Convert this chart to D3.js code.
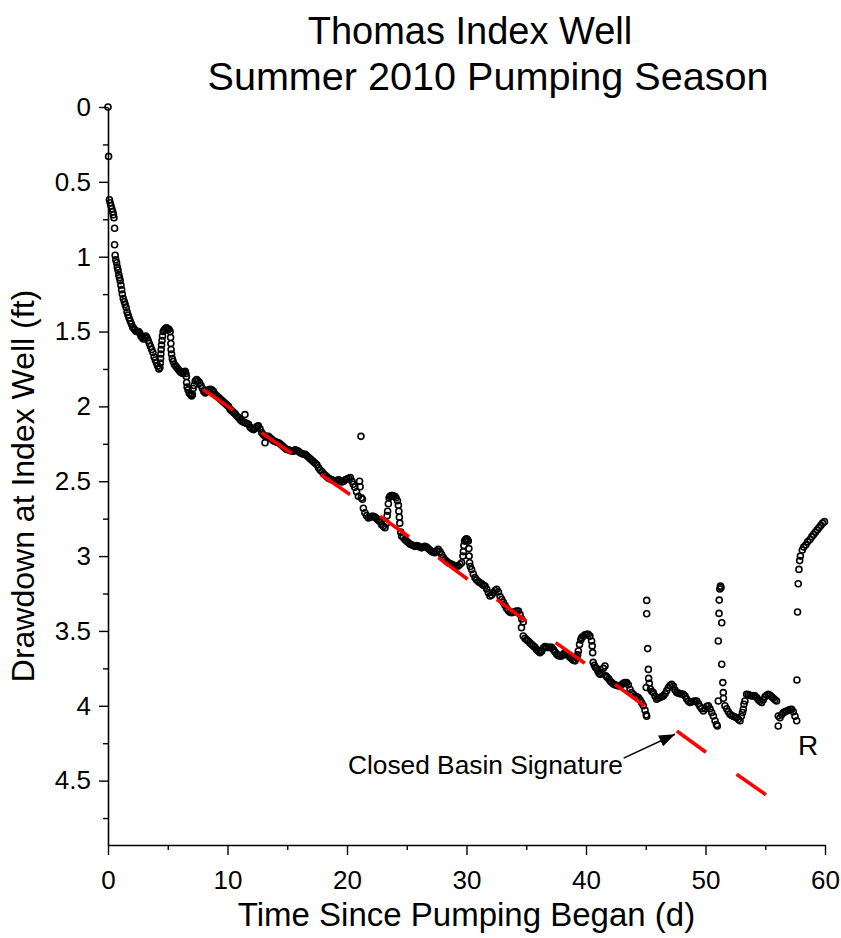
<!DOCTYPE html>
<html>
<head>
<meta charset="utf-8">
<script src="https://cdn.jsdelivr.net/npm/d3@7"></script>
<style>
  html, body { margin: 0; padding: 0; background: #fff; }
  svg { display: block; font-family: "Liberation Sans", Arial, sans-serif; }
</style>
</head>
<body>
<svg id="chart" width="841" height="938"></svg>
<script>
// ---- DATA (time since pumping began in days, drawdown in ft) ----
const titleLines = ["Thomas Index Well", "Summer 2010 Pumping Season"];
const xLabel = "Time Since Pumping Began (d)";
const yLabel = "Drawdown at Index Well (ft)";
const xMajorTicks = [0, 10, 20, 30, 40, 50, 60];
const xMinorTicks = [5, 15, 25, 35, 45, 55];
const yMajorTicks = [0, 0.5, 1, 1.5, 2, 2.5, 3, 3.5, 4, 4.5];
const yMinorTicks = [0.25, 0.75, 1.25, 1.75, 2.25, 2.75, 3.25, 3.75, 4.25, 4.75];

const observations = [
[0.00,0.00],[0.05,0.33],[0.12,0.62],[0.18,0.64],[0.25,0.66],[0.32,0.68],[0.40,0.70],[0.45,0.72],[0.50,0.74],
[0.55,0.81],[0.55,0.92],[0.60,0.99],[0.65,1.02],[0.72,1.04],[0.78,1.07],[0.84,1.09],[0.90,1.12],[0.96,1.14],
[1.02,1.16],[1.08,1.19],[1.14,1.22],[1.20,1.25],[1.28,1.28],[1.36,1.30],[1.44,1.32],[1.52,1.34],[1.60,1.37],
[1.68,1.39],[1.76,1.41],[1.86,1.43],[1.96,1.45],[2.06,1.47],[2.16,1.48],[2.26,1.49],[2.36,1.50],[2.46,1.50],
[2.56,1.50],[2.66,1.51],[2.76,1.53],[2.86,1.54],[2.96,1.55],[3.06,1.54],[3.16,1.53],[3.26,1.54],[3.36,1.56],
[3.46,1.58],[3.56,1.60],[3.66,1.62],[3.76,1.64],[3.86,1.67],[3.96,1.69],[4.06,1.71],[4.16,1.73],[4.26,1.75],
[4.34,1.74],[4.38,1.71],[4.40,1.68],[4.42,1.65],[4.45,1.62],[4.48,1.59],[4.52,1.56],[4.56,1.53],[4.62,1.50],
[4.70,1.49],[4.80,1.48],[4.90,1.475],[5.00,1.48],[5.10,1.485],[5.20,1.50],[5.24,1.54],[5.26,1.58],[5.28,1.62],
[5.32,1.65],[5.38,1.68],[5.46,1.70],[5.56,1.72],[5.66,1.73],[5.76,1.74],[5.86,1.75],[5.96,1.76],[6.06,1.77],
[6.16,1.775],[6.26,1.78],[6.36,1.77],[6.46,1.765],[6.52,1.78],[6.56,1.80],[6.58,1.84],[6.62,1.87],[6.70,1.89],
[6.80,1.91],[6.90,1.92],[7.00,1.93],[7.06,1.92],[7.12,1.88],[7.20,1.86],[7.30,1.83],[7.42,1.82],[7.54,1.83],
[7.66,1.84],[7.78,1.86],[7.90,1.88],[8.02,1.90],[8.14,1.91],[8.26,1.90],[8.40,1.89],[8.54,1.885],[8.68,1.89],
[8.82,1.90],[8.96,1.92],[9.10,1.93],[9.24,1.94],[9.38,1.95],[9.52,1.96],[9.66,1.97],[9.80,1.98],[9.94,1.99],
[10.08,2.00],[10.22,2.02],[10.36,2.03],[10.50,2.04],[10.64,2.05],[10.78,2.065],[10.92,2.075],[11.06,2.09],
[11.20,2.10],[11.34,2.105],[11.46,2.055],[11.48,2.11],[11.62,2.115],[11.76,2.12],[11.90,2.14],[12.04,2.15],
[12.18,2.155],[12.32,2.145],[12.46,2.135],[12.58,2.13],[12.72,2.15],[12.86,2.175],[13.00,2.19],[13.14,2.243],
[13.14,2.20],[13.28,2.20],[13.42,2.20],[13.56,2.21],[13.70,2.22],[13.84,2.23],[13.98,2.235],[14.12,2.24],
[14.26,2.243],[14.40,2.25],[14.54,2.26],[14.68,2.27],[14.82,2.28],[14.96,2.288],[15.10,2.29],[15.24,2.295],
[15.38,2.30],[15.52,2.30],[15.66,2.29],[15.80,2.295],[15.94,2.30],[16.08,2.31],[16.22,2.315],[16.36,2.32],
[16.50,2.32],[16.64,2.33],[16.78,2.34],[16.92,2.35],[17.06,2.36],[17.20,2.37],[17.34,2.38],[17.48,2.39],
[17.62,2.41],[17.76,2.425],[17.90,2.435],[18.04,2.45],[18.18,2.46],[18.32,2.47],[18.46,2.48],[18.60,2.485],
[18.74,2.49],[18.88,2.495],[19.02,2.50],[19.16,2.495],[19.30,2.49],[19.44,2.50],[19.58,2.505],[19.72,2.50],
[19.86,2.49],[20.00,2.485],[20.14,2.48],[20.28,2.475],[20.42,2.50],[20.53,2.52],[20.65,2.54],[20.80,2.57],
[20.95,2.60],[21.05,2.50],[21.10,2.537],[21.17,2.20],[21.20,2.61],[21.29,2.62],[21.37,2.68],[21.50,2.71],
[21.64,2.73],[21.79,2.745],[21.94,2.74],[22.08,2.735],[22.20,2.735],[22.34,2.74],[22.48,2.75],[22.62,2.76],
[22.76,2.77],[22.90,2.79],[23.04,2.80],[23.18,2.81],[23.30,2.78],[23.36,2.73],[23.40,2.70],[23.46,2.65],
[23.52,2.61],[23.60,2.60],[23.70,2.595],[23.80,2.595],[23.90,2.60],[24.00,2.60],[24.10,2.61],[24.22,2.63],
[24.30,2.66],[24.34,2.70],[24.38,2.74],[24.42,2.78],[24.50,2.84],[24.57,2.866],[24.70,2.875],[24.84,2.89],
[24.98,2.90],[25.12,2.91],[25.26,2.92],[25.40,2.925],[25.54,2.93],[25.68,2.935],[25.82,2.93],[25.96,2.933],
[26.10,2.94],[26.24,2.945],[26.38,2.94],[26.52,2.935],[26.66,2.94],[26.80,2.95],[26.94,2.96],[27.08,2.97],
[27.22,2.975],[27.36,2.977],[27.50,2.965],[27.64,2.955],[27.78,2.97],[27.92,2.99],[28.06,3.01],[28.20,3.025],
[28.34,3.035],[28.48,3.045],[28.62,3.05],[28.76,3.055],[28.90,3.06],[29.04,3.065],[29.18,3.067],[29.32,3.067],
[29.46,3.055],[29.60,3.045],[29.70,3.00],[29.74,2.97],[29.78,2.93],[29.84,2.90],[29.92,2.89],[30.00,2.885],
[30.08,2.89],[30.15,2.90],[30.20,2.95],[30.22,3.00],[30.26,3.045],[30.32,3.07],[30.43,3.09],[30.57,3.12],
[30.71,3.144],[30.85,3.16],[30.99,3.17],[31.13,3.178],[31.27,3.185],[31.41,3.195],[31.55,3.20],[31.69,3.22],
[31.83,3.245],[31.97,3.267],[32.11,3.26],[32.25,3.245],[32.39,3.23],[32.53,3.222],[32.67,3.24],[32.81,3.27],
[32.95,3.289],[33.09,3.31],[33.23,3.33],[33.37,3.35],[33.51,3.365],[33.65,3.375],[33.78,3.378],[33.92,3.375],
[34.06,3.37],[34.20,3.367],[34.34,3.367],[34.48,3.39],[34.62,3.42],[34.75,3.44],[34.60,3.478],[34.75,3.534],
[34.90,3.55],[35.04,3.56],[35.17,3.567],[35.31,3.58],[35.45,3.59],[35.59,3.60],[35.73,3.61],[35.87,3.625],
[36.01,3.635],[36.15,3.645],[36.29,3.635],[36.43,3.615],[36.57,3.605],[36.71,3.61],[36.85,3.61],[36.99,3.61],
[37.13,3.61],[37.27,3.625],[37.41,3.64],[37.55,3.655],[37.69,3.665],[37.83,3.668],[37.97,3.667],[38.11,3.655],
[38.24,3.645],[38.38,3.655],[38.52,3.665],[38.66,3.675],[38.80,3.685],[38.94,3.695],[39.08,3.70],[39.22,3.68],
[39.30,3.66],[39.36,3.634],[39.46,3.59],[39.56,3.56],[39.64,3.545],[39.78,3.535],[39.92,3.525],[40.06,3.522],
[40.19,3.522],[40.33,3.535],[40.47,3.567],[40.52,3.60],[40.56,3.645],[40.60,3.71],[40.70,3.73],[40.80,3.745],
[40.89,3.75],[41.00,3.77],[41.10,3.785],[41.20,3.79],[41.31,3.778],[41.45,3.75],[41.59,3.734],[41.66,3.80],
[41.76,3.81],[41.90,3.82],[42.02,3.835],[42.15,3.845],[42.29,3.855],[42.43,3.86],[42.57,3.865],[42.71,3.867],
[42.84,3.867],[42.98,3.86],[43.12,3.85],[43.26,3.845],[43.40,3.845],[43.54,3.86],[43.68,3.89],[43.82,3.912],
[43.96,3.925],[44.10,3.935],[44.24,3.94],[44.38,3.945],[44.52,3.96],[44.66,3.98],[44.80,4.00],[44.94,4.03],
[45.04,4.06],[45.08,4.07],[45.08,3.296],[45.08,3.385],[45.16,3.618],[45.22,3.757],[45.24,3.817],[45.30,3.85],
[45.04,3.878],[45.40,3.89],[45.52,3.905],[45.63,3.912],[45.77,3.935],[45.91,3.956],[46.05,3.95],[46.19,3.945],
[46.33,3.94],[46.47,3.934],[46.61,3.92],[46.75,3.90],[46.89,3.88],[47.03,3.865],[47.17,3.856],[47.31,3.87],
[47.45,3.895],[47.59,3.912],[47.73,3.915],[47.87,3.92],[48.01,3.922],[48.15,3.923],[48.29,3.935],[48.43,3.955],
[48.57,3.97],[48.70,3.978],[48.84,3.975],[48.98,3.97],[49.12,3.968],[49.26,3.968],[49.40,3.985],[49.54,4.005],
[49.68,4.02],[49.82,4.035],[49.96,4.02],[50.10,4.005],[50.24,4.00],[50.38,4.02],[50.52,4.045],[50.66,4.068],
[50.80,4.10],[50.92,4.125],[50.99,4.135],[51.07,3.968],[51.07,3.567],[51.13,3.383],[51.15,3.294],[51.20,3.22],
[51.25,3.20],[51.30,3.21],[51.36,3.445],[51.36,3.723],[51.45,3.845],[51.49,3.912],[51.50,3.95],[51.63,4.00],
[51.77,4.02],[51.91,4.04],[52.05,4.057],[52.19,4.065],[52.33,4.07],[52.47,4.075],[52.60,4.08],[52.75,4.09],
[52.89,4.10],[53.00,4.07],[53.10,4.045],[53.16,4.023],[53.22,3.99],[53.30,3.968],[53.44,3.923],[53.58,3.925],
[53.72,3.93],[53.86,3.935],[54.00,3.935],[54.14,3.934],[54.28,3.945],[54.42,3.96],[54.56,3.97],[54.70,3.978],
[54.84,3.96],[54.98,3.94],[55.12,3.93],[55.26,3.923],[55.40,3.93],[55.54,3.94],[55.68,3.95],[55.82,3.96],
[55.95,3.968],[56.09,4.068],[56.09,4.135],[56.23,4.08],[56.37,4.06],[56.51,4.046],[56.65,4.04],[56.79,4.035],
[56.93,4.03],[57.07,4.025],[57.21,4.023],[57.35,4.04],[57.49,4.07],[57.63,4.10],[57.65,3.828],[57.70,3.374],
[57.76,3.185],[57.82,3.089],[57.88,3.03],[57.94,3.00],[58.10,2.96],[58.22,2.94],[58.40,2.925],[58.55,2.905],
[58.74,2.889],[58.90,2.87],[59.05,2.855],[59.20,2.84],[59.35,2.825],[59.50,2.81],[59.65,2.795],[59.80,2.78],
[59.95,2.77]
];

// red trend segments: start time, start drawdown, end time, end drawdown
const trendStartT = [7.97, 12.86, 17.82, 22.76, 27.64, 32.53, 37.46, 42.43, 47.60, 52.60];
const trendStartD = [1.887, 2.176, 2.455, 2.733, 3.010, 3.289, 3.578, 3.857, 4.168, 4.457];
const trendEndT   = [10.48, 15.37, 20.25, 25.19, 30.10, 34.98, 39.90, 44.88, 50.04, 55.05];
const trendEndD   = [2.025, 2.314, 2.588, 2.871, 3.155, 3.434, 3.716, 4.000, 4.310, 4.594];

const annotationText = "Closed Basin Signature";
const annotationTextAt = [20.08, 4.456];      // [t, d] of text baseline start
const annotationArrowFrom = [43.15, 4.35];
const annotationArrowTo = [47.45, 4.19];
const recoveryLabel = "R";
const recoveryLabelAt = [57.75, 4.33];

// ---- CHART ----
const svg = d3.select("#chart");
const x = d3.scaleLinear().domain([0, 60]).range([108, 825]);
const y = d3.scaleLinear().domain([0, 4.93]).range([107, 845]);

// titles
svg.append("text").attr("x", 470).attr("y", 44).attr("text-anchor", "middle")
  .attr("font-size", 38).attr("fill", "#000").text(titleLines[0]);
svg.append("text").attr("x", 488).attr("y", 90).attr("text-anchor", "middle")
  .attr("font-size", 39.6).attr("fill", "#000").text(titleLines[1]);

// axes
const fmt = d => String(d);
svg.append("g").attr("transform", `translate(0,${y.range()[1]})`)
  .call(d3.axisBottom(x).tickValues(xMajorTicks).tickFormat(fmt).tickSize(10).tickSizeOuter(0).tickPadding(16));
svg.append("g").attr("transform", `translate(0,${y.range()[1]})`)
  .call(d3.axisBottom(x).tickValues(xMinorTicks).tickFormat("").tickSize(5).tickSizeOuter(0))
  .select(".domain").remove();
svg.append("g").attr("transform", `translate(${x.range()[0]},0)`)
  .call(d3.axisLeft(y).tickValues(yMajorTicks).tickFormat(fmt).tickSize(9).tickSizeOuter(0).tickPadding(8));
svg.append("g").attr("transform", `translate(${x.range()[0]},0)`)
  .call(d3.axisLeft(y).tickValues(yMinorTicks).tickFormat("").tickSize(5).tickSizeOuter(0))
  .select(".domain").remove();

svg.selectAll(".domain").attr("stroke", "#000").attr("stroke-width", 1.6);
svg.selectAll(".tick line").attr("stroke", "#000").attr("stroke-width", 1.4);
svg.selectAll(".tick text").attr("font-size", 26).attr("fill", "#000")
  .attr("font-family", "'Liberation Sans', Arial, sans-serif");

// axis labels
svg.append("text").attr("x", (x.range()[0] + x.range()[1]) / 2).attr("y", 926)
  .attr("text-anchor", "middle").attr("font-size", 33).attr("fill", "#000").text(xLabel);
svg.append("text").attr("transform", `translate(34,${(y.range()[0] + y.range()[1]) / 2 + 10}) rotate(-90)`)
  .attr("text-anchor", "middle").attr("font-size", 32).attr("fill", "#000").text(yLabel);

// data points (open circles)
svg.append("g").selectAll("circle").data(observations).join("circle")
  .attr("cx", d => x(d[0])).attr("cy", d => y(d[1])).attr("r", 3.0)
  .attr("fill", "none").attr("stroke", "#000").attr("stroke-width", 1.6);

// red trend segments
svg.append("g").selectAll("line").data(d3.range(trendStartT.length)).join("line")
  .attr("x1", i => x(trendStartT[i])).attr("y1", i => y(trendStartD[i]))
  .attr("x2", i => x(trendEndT[i])).attr("y2", i => y(trendEndD[i]))
  .attr("stroke", "#ff0000").attr("stroke-width", 3.6);

// annotation arrow
const defs = svg.append("defs");
defs.append("marker").attr("id", "arrowhead").attr("viewBox", "0 0 10 10")
  .attr("refX", 10).attr("refY", 5).attr("markerWidth", 16).attr("markerHeight", 12)
  .attr("markerUnits", "userSpaceOnUse").attr("orient", "auto")
  .attr("preserveAspectRatio", "none")
  .append("path").attr("d", "M0,0 L10,5 L0,10 Z").attr("fill", "#000");
svg.append("line")
  .attr("x1", x(annotationArrowFrom[0])).attr("y1", y(annotationArrowFrom[1]))
  .attr("x2", x(annotationArrowTo[0])).attr("y2", y(annotationArrowTo[1]))
  .attr("stroke", "#000").attr("stroke-width", 1.5).attr("marker-end", "url(#arrowhead)");
svg.append("text").attr("x", x(annotationTextAt[0])).attr("y", y(annotationTextAt[1]))
  .attr("font-size", 26.3).attr("fill", "#000").text(annotationText);
svg.append("text").attr("x", x(recoveryLabelAt[0])).attr("y", y(recoveryLabelAt[1]))
  .attr("font-size", 28).attr("fill", "#000").text(recoveryLabel);
</script>
</body>
</html>
